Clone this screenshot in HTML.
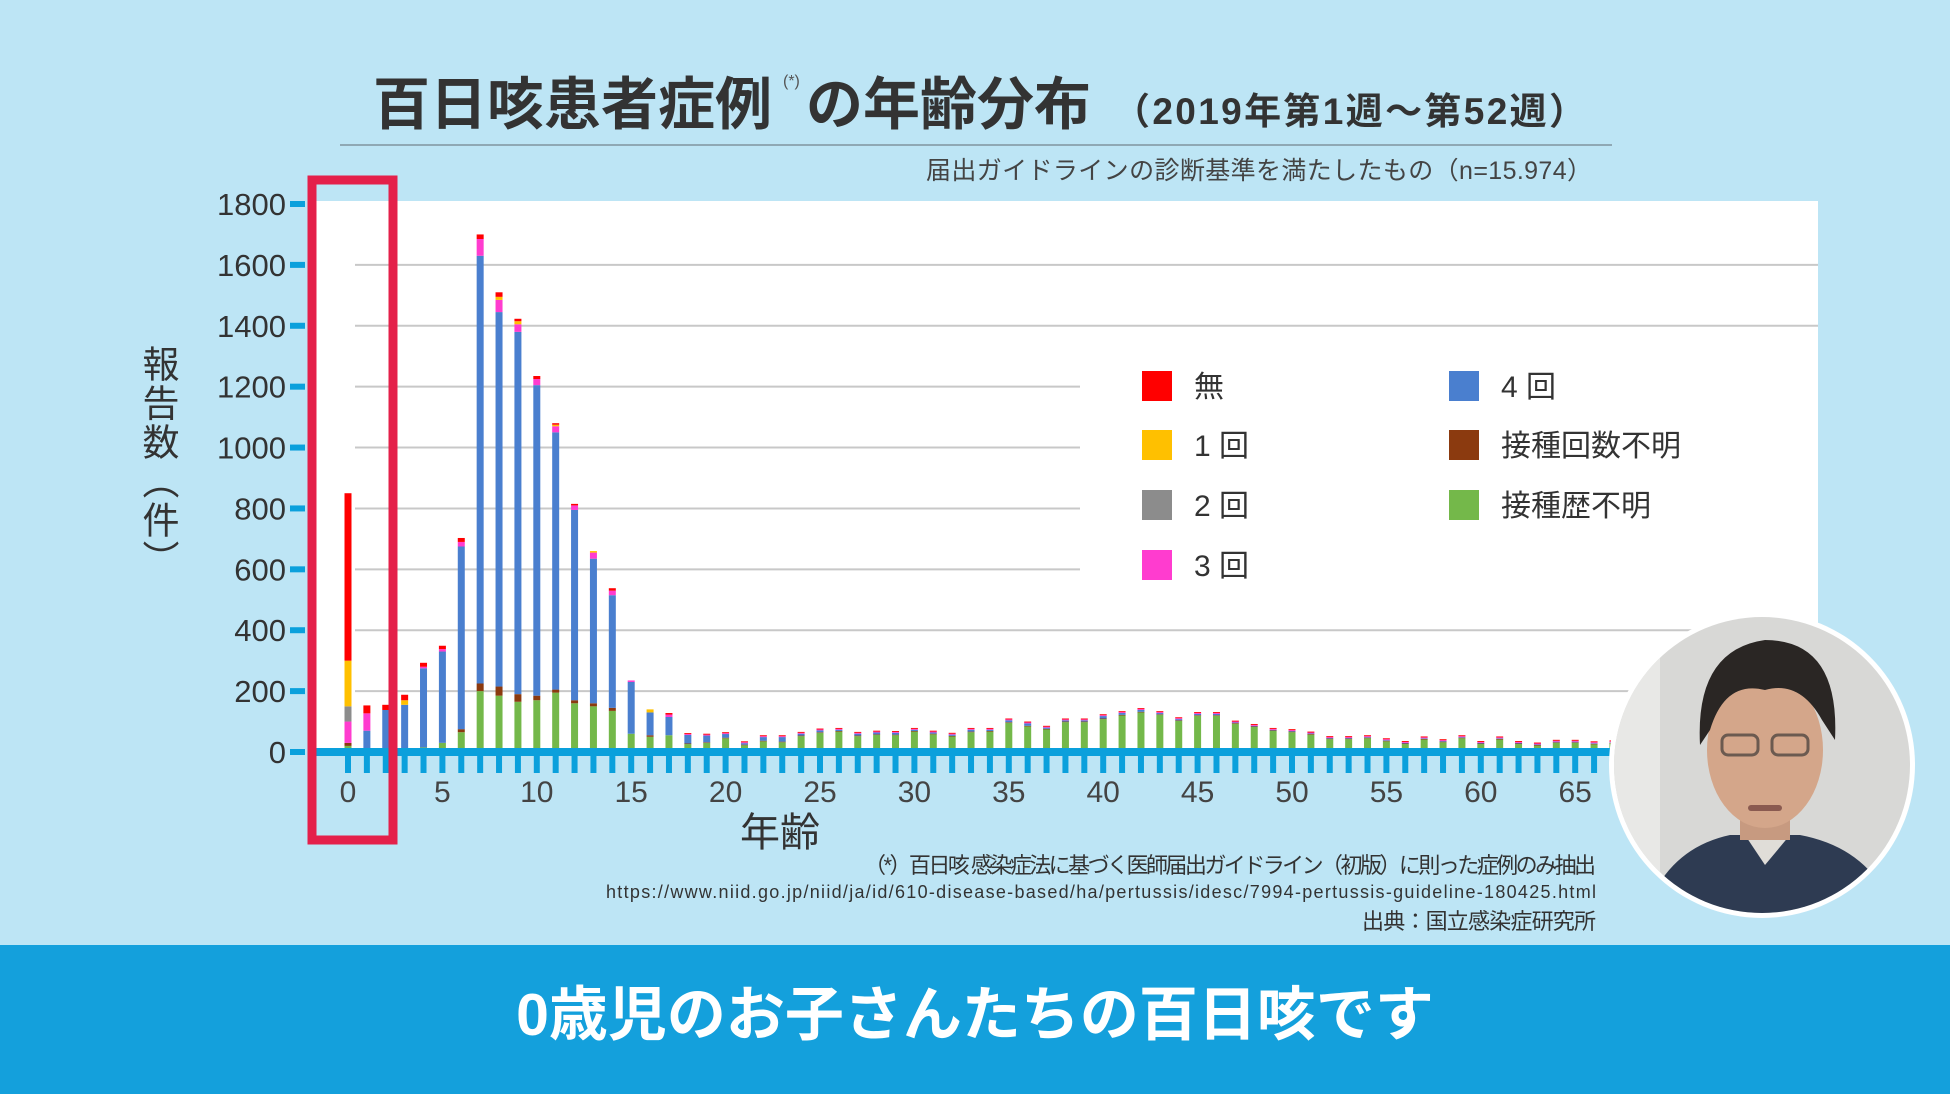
<!DOCTYPE html>
<html><head><meta charset="utf-8"><style>
html,body{margin:0;padding:0;}
body{width:1950px;height:1094px;overflow:hidden;background:#bde5f5;font-family:"Liberation Sans","Noto Sans CJK JP",sans-serif;position:relative;}
svg{position:absolute;left:0;top:0;}
#ytitle{position:absolute;left:130px;top:345px;writing-mode:vertical-rl;font-size:37px;color:#333;letter-spacing:2px;font-family:"Liberation Sans","Noto Sans CJK JP",sans-serif;}
</style></head><body>
<svg id="chart" width="1950" height="1094" viewBox="0 0 1950 1094">
  <text x="373" y="124" font-size="57" font-weight="bold" fill="#333" font-family="Liberation Sans, Noto Sans CJK JP, sans-serif">百日咳患者症例</text>
  <text x="783" y="86" font-size="16" fill="#555" font-family="Liberation Sans, Noto Sans CJK JP, sans-serif">(*)</text>
  <text x="806" y="124" font-size="57" font-weight="bold" fill="#333" font-family="Liberation Sans, Noto Sans CJK JP, sans-serif">の年齢分布</text>
  <text x="1113" y="124" font-size="37" font-weight="bold" fill="#333" textLength="473" font-family="Liberation Sans, Noto Sans CJK JP, sans-serif">（2019年第1週〜第52週）</text>
  <line x1="340" y1="145" x2="1612" y2="145" stroke="#8fa8b4" stroke-width="2"/>
  <text x="926" y="179" font-size="25" fill="#444" textLength="666" font-family="Liberation Sans, Noto Sans CJK JP, sans-serif">届出ガイドラインの診断基準を満たしたもの（n=15.974）</text>
  <rect x="315" y="201" width="1503" height="551" fill="#ffffff"/>
  <g id="grid"></g>
  <g id="yaxis"></g>
  <g id="bars"></g>
  <g id="xaxis"></g>
  <g id="legend"></g>
  <text x="780" y="846" font-size="40" fill="#333" text-anchor="middle" font-family="Liberation Sans, Noto Sans CJK JP, sans-serif">年齢</text>
  <text x="864" y="873" font-size="22" fill="#333" textLength="732" font-family="Liberation Sans, Noto Sans CJK JP, sans-serif">（*）百日咳 感染症法に基づく医師届出ガイドライン（初版）に則った症例のみ抽出</text>
  <text x="606" y="898" font-size="18" fill="#333" textLength="990" font-family="Liberation Sans, sans-serif">https://www.niid.go.jp/niid/ja/id/610-disease-based/ha/pertussis/idesc/7994-pertussis-guideline-180425.html</text>
  <text x="1362" y="929" font-size="22" fill="#333" textLength="234" font-family="Liberation Sans, Noto Sans CJK JP, sans-serif">出典：国立感染症研究所</text>
  <rect x="312" y="180" width="81" height="660" fill="none" stroke="#e4204a" stroke-width="9"/>
  <g>
    <defs><clipPath id="cp"><circle cx="1762" cy="765" r="148"/></clipPath></defs>
    <circle cx="1762" cy="765" r="153" fill="#ffffff"/>
    <g clip-path="url(#cp)">
      <rect x="1600" y="600" width="330" height="330" fill="#d8d8d6"/>
      <rect x="1600" y="600" width="60" height="330" fill="#e8e8e6"/>
      <path d="M1640 930 Q1660 850 1730 835 L1800 835 Q1880 850 1900 930 Z" fill="#2e3b52"/>
      <path d="M1745 835 L1765 865 L1790 835 Z" fill="#e0ddd8"/>
      <rect x="1740" y="800" width="50" height="40" fill="#c79a80"/>
      <ellipse cx="1765" cy="750" rx="58" ry="78" fill="#d4a68a"/>
      <path d="M1700 745 Q1695 650 1765 640 Q1840 640 1835 740 L1822 720 Q1800 680 1765 690 Q1725 680 1710 730 Z" fill="#2a2624"/>
      <rect x="1722" y="735" width="36" height="20" rx="6" fill="none" stroke="#6b5a50" stroke-width="3"/>
      <rect x="1772" y="735" width="36" height="20" rx="6" fill="none" stroke="#6b5a50" stroke-width="3"/>
      <rect x="1748" y="805" width="34" height="6" rx="3" fill="#8a5a50"/>
    </g>
  </g>
</svg>
<div id="ytitle">報告数（件）</div>
<div style="position:absolute;left:0;top:945px;width:1950px;height:149px;background:#14a0dc;"></div>
<div style="position:absolute;left:0;top:975px;width:1950px;text-align:center;color:#fff;font-weight:bold;font-size:59px;line-height:80px;font-family:'Liberation Sans','Noto Sans CJK JP',sans-serif;">0歳児のお子さんたちの百日咳です</div>
<script>
const ages = Array.from({length:68},(_,i)=>i);
const yTicks = [0,200,400,600,800,1000,1200,1400,1600,1800];
const xTickLabels = [0,5,10,15,20,25,30,35,40,45,50,55,60,65];
const seriesNames = ['無','1 回','2 回','3 回','4 回','接種回数不明','接種歴不明'];
const A = (arr, fill, n) => arr.concat(Array(68-arr.length).fill(fill));
const green = [20,5,8,10,15,30,65,200,185,165,170,195,160,150,135,60,50,55,
 26,30,45,22,35,32,52,63,67,52,56,55,67,58,51,65,67,96,84,74,98,98,108,120,130,122,102,119,119,93,82,69,65,57,42,42,45,35,26,41,32,45,26,41,26,21,30,30,25,28];
const brown = A([10,0,0,0,0,0,10,25,30,25,15,10,10,10,10,0,5,0],2);
const blue = [0,65,130,145,260,300,600,1405,1230,1190,1020,845,625,475,370,170,75,60,
 28,22,12,5,12,15,6,6,4,6,6,6,4,4,4,6,4,6,8,4,4,4,8,6,6,4,4,4,4,2,2,2,2,2,2,2,2,2,2,2,2,2,2,2,2,2,2,2,2,2];
const magenta = A([70,57,0,0,5,8,15,55,40,25,20,20,15,20,15,5,0,8],3);
const gray = A([50],0);
const yellow = A([150,0,0,15,0,0,0,0,10,10,0,5,0,5,0,0,10,0],0);
const red = A([550,26,17,18,13,11,13,15,15,8,10,5,5,0,8,0,0,5],3);

const NS='http://www.w3.org/2000/svg';
const X0=348, DX=18.88, Y0=752, YMAX=1800, YTOP=204;
const xs = a => X0 + a*DX;
const ys = v => Y0 - v*(Y0-YTOP)/YMAX;
function mk(tag, attrs, parent){const e=document.createElementNS(NS,tag);for(const k in attrs)e.setAttribute(k,attrs[k]);parent.appendChild(e);return e;}
const grid=document.getElementById('grid'), yax=document.getElementById('yaxis'), barsG=document.getElementById('bars'), xax=document.getElementById('xaxis'), leg=document.getElementById('legend');
yTicks.forEach(t=>{
  if(t>0 && t<1800){
    const x2 = (t>=600 && t<=1200) ? 1080 : 1818;
    const g = mk('line',{x1:355,x2:x2,y1:ys(t),y2:ys(t),stroke:'#c8c8c8','stroke-width':2},grid);
    
    
  }
  const tk = mk('line',{x1:290,x2:305,y1:ys(t),y2:ys(t),stroke:'#0aa0dc','stroke-width':6},yax);
  
  
  const lb = mk('text',{x:286,y:ys(t)+11,'font-size':31,fill:'#333','text-anchor':'end','font-family':'Liberation Sans, sans-serif'},yax);
  lb.textContent=t;
  
  
});
const series=[green,brown,blue,magenta,gray,yellow,red];
const colors=['#74b84a','#8b3a0f','#4a7fcf','#ff3ccf','#8c8c8c','#ffc000','#ff0000'];
ages.forEach(a=>{
  let cum=0;
  series.forEach((s,si)=>{
    const v=s[a]; if(!v) return;
    const r=mk('rect',{x:xs(a)-3.5,width:7,y:ys(cum+v),height:ys(cum)-ys(cum+v),fill:colors[si]},barsG);
    
    
    cum+=v;
  });
});
const axl=mk('rect',{x:311,y:748,width:1301,height:8,fill:'#0aa0dc'},xax);


ages.forEach(a=>{
  const t=mk('rect',{x:xs(a)-3,y:752,width:6,height:21,fill:'#0aa0dc'},xax);
  
  
});
xTickLabels.forEach(v=>{
  const l=mk('text',{x:xs(v),y:802,'font-size':30,fill:'#444','text-anchor':'middle','font-family':'Liberation Sans, sans-serif'},xax);
  l.textContent=v;
  
  
});
const legPos=[[1142,386],[1142,445],[1142,505],[1142,565],[1449,386],[1449,445],[1449,505]];
const legCol=['#ff0000','#ffc000','#8c8c8c','#ff3ccf','#4a7fcf','#8b3a0f','#74b84a'];
seriesNames.forEach((n,i)=>{
  const [x,y]=legPos[i];
  const s=mk('rect',{x:x,y:y-15,width:30,height:30,fill:legCol[i]},leg);
  
  
  const t=mk('text',{x:x+52,y:y+11,'font-size':30,fill:'#333','font-family':'Liberation Sans, Noto Sans CJK JP, sans-serif'},leg);
  t.textContent=n;
  
  
});
</script>
</body></html>
